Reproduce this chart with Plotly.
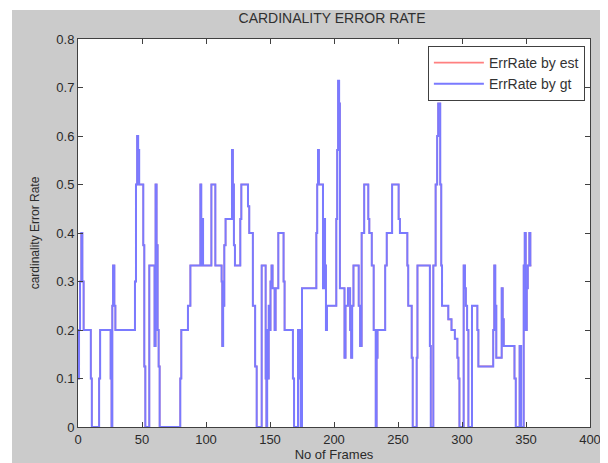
import plotly.graph_objects as go

# Change points of the step series (frame, error rate)
frames = [0, 0.8, 1.6, 2.6, 3.4, 4.4, 10.0, 10.8, 16.5, 17.3, 25.5, 26.2, 26.8, 27.4, 28.4, 29.2,
          44.5, 45.3, 46.2, 47.0, 47.8, 51.0, 51.8, 52.6, 55.7, 59.8, 60.6, 61.4, 62.2, 63.0, 63.8,
          79.9, 80.7, 85.9, 87.8, 95.6, 96.3, 97.0, 97.7, 104.2, 107.3, 112.2, 112.7, 113.4, 114.3,
          115.3, 120.3, 121.0, 121.8, 122.6, 126.8, 127.6, 132.8, 133.8, 136.6, 138.4, 139.6,
          143.5, 146.6, 147.2, 147.8, 148.4, 149.0, 149.6, 150.4, 151.2, 152.0, 153.6, 154.4,
          156.5, 160.6, 161.4, 167.9, 168.8, 171.9, 172.6, 173.4, 174.0, 175.0,
          186.2, 186.9, 187.5, 188.2, 191.4, 192.3, 193.0, 193.7, 194.5, 201.8, 202.5, 203.2,
          204.0, 204.6, 208.2, 209.0, 210.9, 212.6, 213.4, 214.2, 215.2, 219.3, 220.4, 221.6,
          223.6, 226.8, 227.6, 229.5, 231.0, 232.6, 233.3, 234.0, 240.0, 241.2, 245.4, 250.5,
          251.5, 257.3, 258.0, 260.7, 261.5, 264.6, 265.2, 274.9, 275.6, 277.6, 279.4, 280.6,
          281.4, 283.0, 283.8, 284.4, 289.3, 291.8, 294.4, 296.4, 297.2, 298.0,
          301.3, 302.3, 303.0, 304.0, 305.0, 307.8, 312.0, 312.8, 324.4, 325.2, 326.0, 326.8,
          331.0, 331.8, 332.6, 341.0, 342.0, 345.0, 346.2, 348.2, 349.0, 349.8, 350.6, 351.4,
          352.6, 353.4, 354.2]

err_gt = [0.1, 0.2, 0.3, 0.4, 0.3, 0.2, 0.1, 0, 0.1, 0.2, 0.1, 0, 0.25, 0.333, 0.25, 0.2,
          0.3, 0.5, 0.6, 0.571, 0.5, 0.375, 0.125, 0, 0.333, 0.167, 0.5, 0.375, 0.2, 0.125, 0,
          0.1, 0.2, 0.25, 0.333, 0.5, 0.333, 0.429, 0.333, 0.5, 0.333, 0.3, 0.167, 0.25, 0.375,
          0.429, 0.571, 0.5, 0.375, 0.333, 0.429, 0.5, 0.455, 0.4, 0.25, 0.125, 0,
          0.333, 0.1, 0, 0.2, 0.1, 0.25, 0.2, 0.3, 0.333, 0.286, 0.2, 0.286,
          0.4, 0.3, 0.2, 0.1, 0, 0.2, 0.1, 0.2, 0, 0.286,
          0.4, 0.5, 0.571, 0.5, 0.286, 0.429, 0.333, 0.2, 0.25, 0.429, 0.571, 0.714,
          0.667, 0.286, 0.143, 0.25, 0.286, 0.2, 0.143, 0.25, 0.333, 0.25, 0.167, 0.4,
          0.5, 0.429, 0.4, 0.333, 0.2, 0, 0.143, 0.2, 0.333, 0.4, 0.5, 0.429,
          0.4, 0.333, 0.25, 0.143, 0, 0.143, 0.333, 0.167, 0, 0.333, 0.5, 0.6,
          0.667, 0.5, 0.333, 0.25, 0.222, 0.2, 0.182, 0.143, 0.1, 0,
          0.333, 0.286, 0.25, 0.2, 0, 0.25, 0.2, 0.125, 0.2, 0.333, 0.25, 0.143,
          0.286, 0.222, 0.167, 0.1, 0, 0.167, 0, 0.333, 0.4, 0.2, 0.286, 0.333,
          0.4, 0.333, 0.333]

err_est = list(err_gt)

x_ticks = [0, 50, 100, 150, 200, 250, 300, 350, 400]
y_ticks = [0, 0.1, 0.2, 0.3, 0.4, 0.5, 0.6, 0.7, 0.8]
y_tick_labels = ["0", "0.1", "0.2", "0.3", "0.4", "0.5", "0.6", "0.7", "0.8"]

FONT = "Liberation Sans, Arial, sans-serif"

fig = go.Figure()
fig.add_trace(go.Scatter(x=frames, y=err_est, mode="lines", name="ErrRate by est",
                         line=dict(color="#ff8080", width=1.6, shape="hv")))
fig.add_trace(go.Scatter(x=frames, y=err_gt, mode="lines", name="ErrRate by gt",
                         line=dict(color="#7a7aff", width=2, shape="hv")))

axis_common = dict(showline=True, linecolor="#404040", linewidth=1, mirror="ticks",
                   ticks="inside", ticklen=5, tickcolor="#404040", showgrid=False,
                   zeroline=False, automargin=False,
                   tickfont=dict(family=FONT, size=13, color="#2a2a2a"))

fig.update_xaxes(range=[0, 400], tickvals=x_ticks,
                 title=dict(text="No of Frames", font=dict(family=FONT, size=13, color="#2a2a2a"),
                            standoff=4),
                 **axis_common)
fig.update_yaxes(range=[0, 0.8], tickvals=y_ticks, ticktext=y_tick_labels,
                 title=dict(text="cardinality Error Rate", font=dict(family=FONT, size=12, color="#2a2a2a"),
                            standoff=14),
                 **axis_common)

# The page adds an 8 px body margin, so the figure is sized 600x455.
fig.update_layout(
    width=600, height=455,
    margin=dict(l=70, r=18, t=31, b=36, autoexpand=False),
    paper_bgcolor="#cbcbcb",
    plot_bgcolor="white",
    title=dict(text="CARDINALITY ERROR RATE", x=(324 / 600), xanchor="center",
               y=1 - 10 / 455, yanchor="middle",
               font=dict(family=FONT, size=14, color="#303030")),
    legend=dict(x=0.99, y=0.982, xanchor="right", yanchor="top",
                bgcolor="white", bordercolor="#404040", borderwidth=1,
                itemwidth=50, tracegroupgap=0,
                font=dict(family=FONT, size=14, color="#333333")),
    shapes=[
        dict(type="rect", xref="paper", yref="paper", x0=-0.2, x1=1.1,
             y0=1 + 29 / 388, y1=1.2, fillcolor="white", line=dict(width=0), layer="above"),
        dict(type="rect", xref="paper", yref="paper", x0=-0.2, x1=-66 / 512,
             y0=-0.2, y1=1.2, fillcolor="white", line=dict(width=0), layer="above"),
    ],
)

fig.write_html("out.html")
